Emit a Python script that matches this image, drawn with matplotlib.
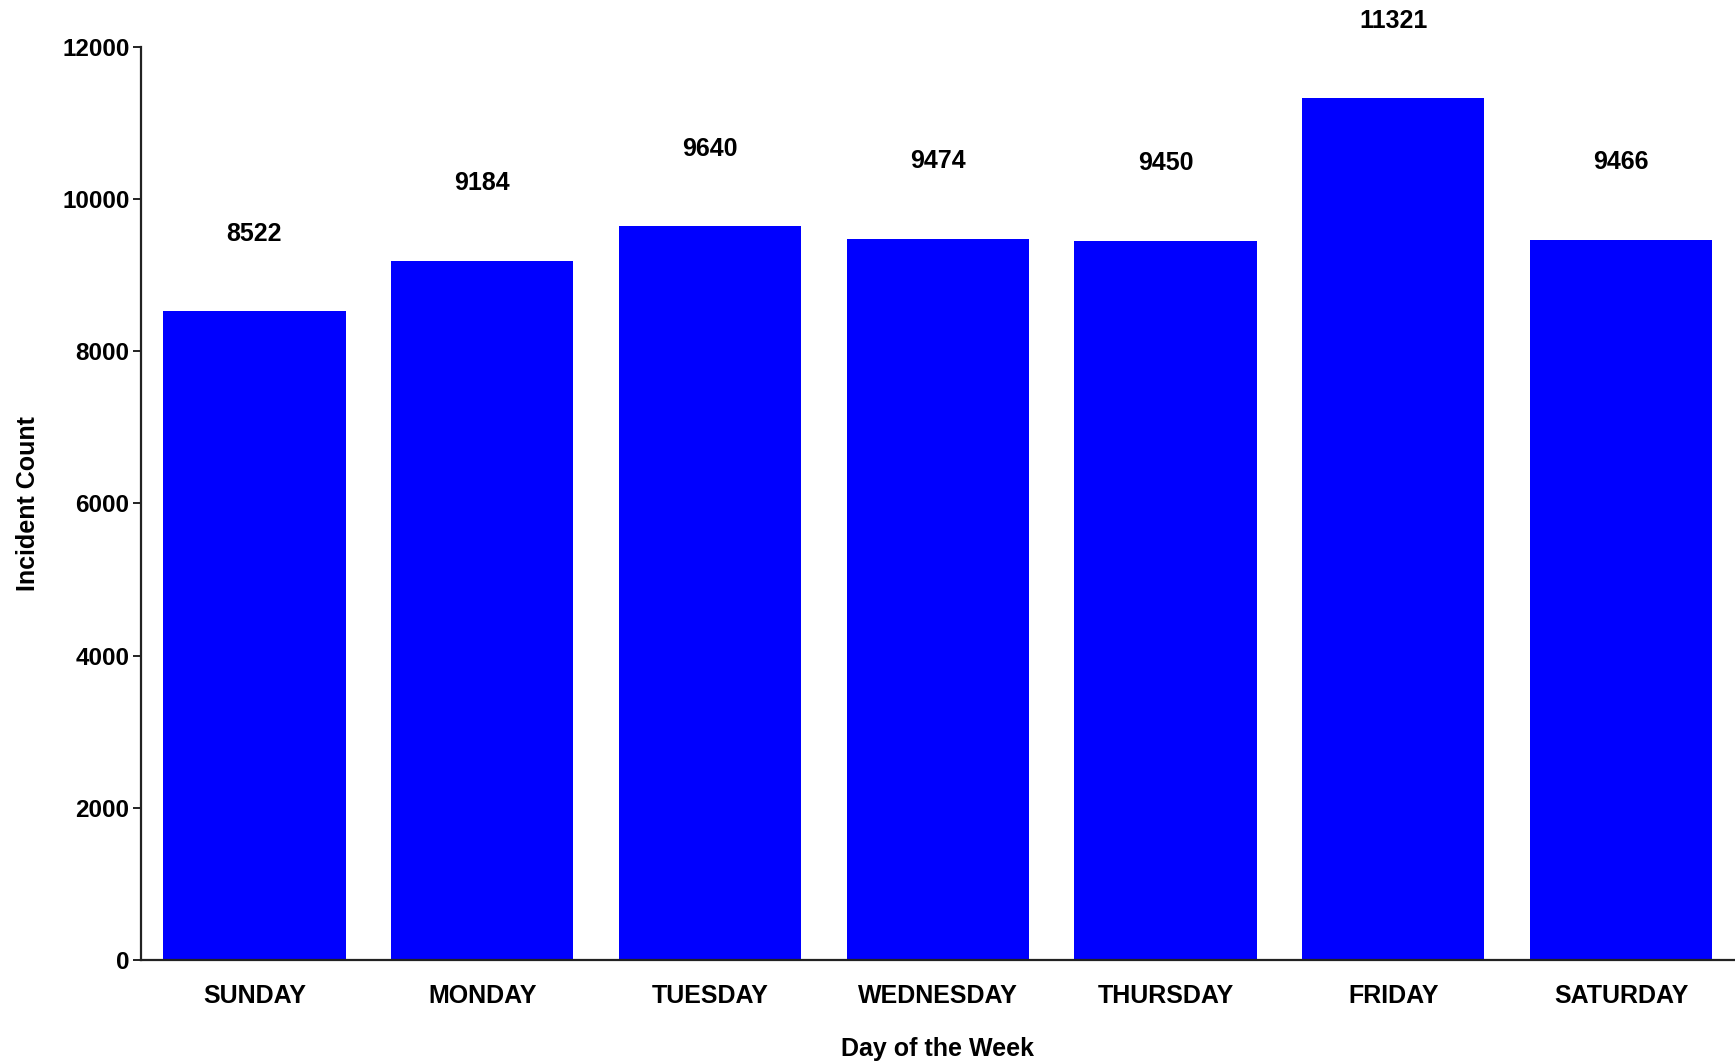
import matplotlib
matplotlib.use('Agg')
import matplotlib.pyplot as plt

days = ['SUNDAY', 'MONDAY', 'TUESDAY', 'WEDNESDAY', 'THURSDAY', 'FRIDAY', 'SATURDAY']
counts = [8522, 9184, 9640, 9474, 9450, 11321, 9466]
yticks = [0, 2000, 4000, 6000, 8000, 10000, 12000]

plt.rcParams['font.family'] = ['Liberation Sans', 'DejaVu Sans']
plt.rcParams['font.weight'] = 'bold'

fig = plt.figure(figsize=(17.35, 10.61), dpi=100)
ax = fig.add_axes([0.081, 0.095, 0.919, 0.861])

pos = list(range(len(days)))
ax.bar(pos, counts, width=0.8, color='#0000ff')

for x, v in zip(pos, counts):
    ax.annotate(str(v), (x, v), xytext=(0, 56), textcoords='offset points',
                ha='center', va='center', fontsize=18, fontweight='bold')

ax.set_xlim(-0.5, 6.5)
ax.set_ylim(0, 12000)
ax.set_yticks(yticks)
ax.set_xticks(pos)
ax.set_xticklabels(days)

ax.spines['top'].set_visible(False)
ax.spines['right'].set_visible(False)
ax.spines['left'].set_linewidth(1.6)
ax.spines['bottom'].set_linewidth(1.6)
ax.spines['left'].set_color('#222222')
ax.spines['bottom'].set_color('#222222')

ax.tick_params(axis='x', length=0, pad=17, labelsize=18)
ax.tick_params(axis='y', length=6, width=1.4, pad=2, labelsize=17.5, color='#222222')

ax.set_xlabel('Day of the Week', fontsize=18, fontweight='bold', labelpad=21)
ax.set_ylabel('Incident Count', fontsize=18, fontweight='bold', labelpad=16)

fig.savefig('out.png', dpi=100)
